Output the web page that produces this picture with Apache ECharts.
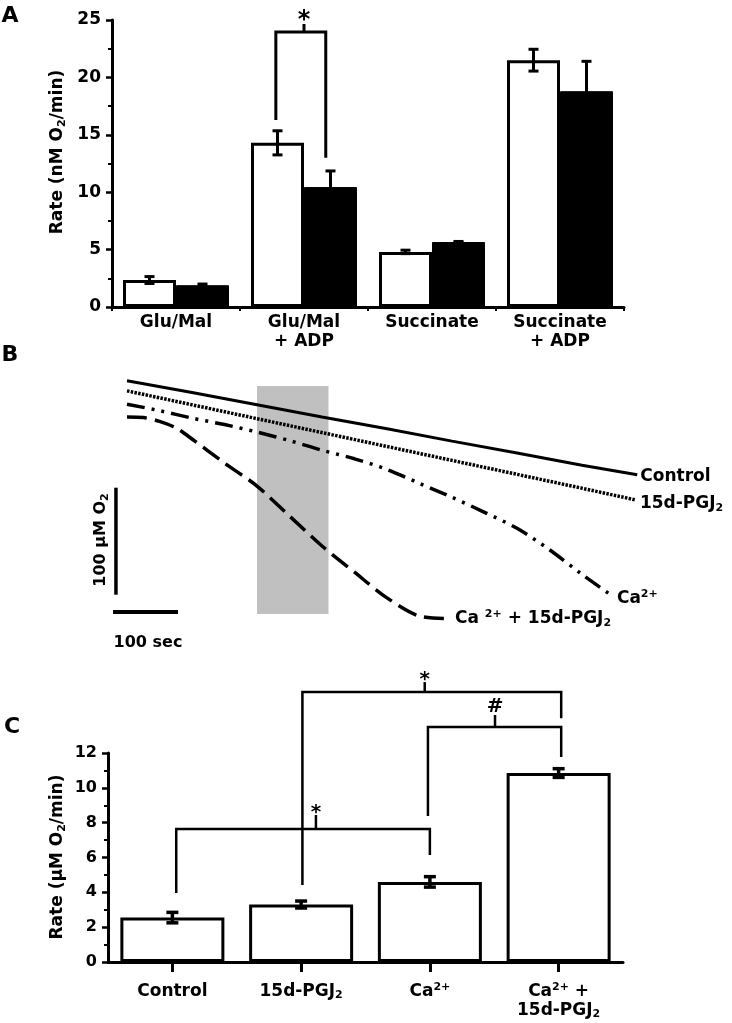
<!DOCTYPE html>
<html><head><meta charset="utf-8">
<script src="https://cdn.jsdelivr.net/npm/echarts@6/dist/echarts.min.js"></script>
<style>html,body{margin:0;padding:0;background:#fff}#c{width:732px;height:1023px}</style>
</head><body><div id="c"></div>
<script>
// ---------- Panel A data ----------
const catsA = ['Glu/Mal', 'Glu/Mal\n+ ADP', 'Succinate', 'Succinate\n+ ADP'];
const ctrlA = [2.35, 14.3, 4.8, 21.5];
const ctrlErrA = [0.3, 1.05, 0.15, 0.95];
const trtA = [1.9, 10.45, 5.66, 18.8];
const trtErrA = [0.1, 1.4, 0.05, 2.6];
const yMaxA = 25, yStepA = 5;
// significance bracket (category units / rate units)
const brA_left = [0.78], brA_right = [1.17], brA_top = [23.95];
const brA_leftEnd = [16.3], brA_rightEnd = [13.0], brA_tick = [1.0], brA_tickTop = [24.65], brA_mark = ['*'];

// ---------- Panel B data (time s, O2 uM) ----------
const tCtrl = [0, 100, 200, 300, 400, 500, 600, 700, 785];
const o2Ctrl = [233, 222, 210.5, 199, 188, 176.5, 165.5, 154, 145];
const tPgj = [0, 100, 200, 300, 400, 500, 600, 700, 783];
const o2Pgj = [223.5, 210.5, 197.5, 184.5, 171.5, 158.5, 145.5, 132.5, 121.5];
const tCa = [0, 50, 100, 150, 200, 250, 300, 350, 400, 450, 500, 550, 600, 650, 700, 746];
const o2Ca = [211, 205, 198, 192, 185, 177, 168, 160, 150, 137, 124, 110, 95, 75, 52, 32];
const tCaPgj = [0, 25, 50, 75, 100, 150, 200, 250, 300, 350, 400, 450, 500];
const o2CaPgj = [199, 198.5, 195, 189, 178.5, 156, 134.5, 106.5, 78.5, 54, 30, 13, 10.5];
const shadeT = [200, 310], shadeO2 = [15, 228];
const scaleSec = 100, scaleO2 = 100;

// ---------- Panel C data ----------
const catsC = ['Control', '15d-PGJ{sub|2}', 'Ca{sup|2+}', 'Ca{sup|2+} +\n15d-PGJ{sub|2}'];
const rateC = [2.55, 3.3, 4.6, 10.85];
const errC = [0.3, 0.2, 0.3, 0.25];
const yMaxC = 12, yStepC = 2;
const brC_left = [0.03, 1.01, 1.985], brC_right = [2.0, 3.02, 3.02], brC_top = [7.63, 15.5, 13.49];
const brC_leftEnd = [3.96, 4.42, 8.38], brC_rightEnd = [6.14, 14.0, 11.77];
const brC_tick = [1.115, 1.96, 2.506], brC_tickTop = [8.44, 16.07, 14.18], brC_mark = ['*', '*', '#'];

const FONT = 'DejaVu Sans';
const richL = {
  sub: {fontFamily: FONT, fontWeight: 'bold', fontSize: 11, lineHeight: 10, verticalAlign: 'bottom', color: '#000'},
  sup: {fontFamily: FONT, fontWeight: 'bold', fontSize: 11, lineHeight: 10, verticalAlign: 'top', color: '#000'}
};
const richG = {
  sub: {fontFamily: FONT, fontWeight: 'bold', fontSize: 11, lineHeight: 10, verticalAlign: 'bottom', fill: '#000'},
  sup: {fontFamily: FONT, fontWeight: 'bold', fontSize: 11, lineHeight: 10, verticalAlign: 'top', fill: '#000'}
};

function errRender(offset, capW, lw) {
  return function (params, api) {
    const i = api.value(0), m = api.value(1), e = api.value(2);
    const x = api.coord([i, m])[0] + offset;
    const yt = api.coord([i, m + e])[1], yb = api.coord([i, m - e])[1];
    const s = {stroke: '#000', lineWidth: lw};
    return {type: 'group', children: [
      {type: 'line', shape: {x1: x, y1: yt, x2: x, y2: yb}, style: s},
      {type: 'line', shape: {x1: x - capW / 2, y1: yt, x2: x + capW / 2, y2: yt}, style: s},
      {type: 'line', shape: {x1: x - capW / 2, y1: yb, x2: x + capW / 2, y2: yb}, style: s}
    ]};
  };
}
function bracketRender(L, R, T, LE, RE, TK, TT, MK, fs, lw) {
  return function (params, api) {
    const i = params.dataIndex;
    const c0 = api.coord([0, 0])[0];
    const band = api.size([1, 0])[0];
    const px = v => c0 + v * band;
    const py = v => api.coord([0, v])[1];
    const xl = px(L[i]), xr = px(R[i]), xt = px(TK[i]);
    const yt = py(T[i]), ttp = py(TT[i]);
    const mk = MK[i];
    return {type: 'group', children: [
      {type: 'polyline', shape: {points: [[xl, py(LE[i])], [xl, yt], [xr, yt], [xr, py(RE[i])]]}, style: {stroke: '#000', lineWidth: lw, fill: null}},
      {type: 'line', shape: {x1: xt, y1: yt, x2: xt, y2: ttp}, style: {stroke: '#000', lineWidth: lw}},
      {type: 'text', x: xt, y: mk === '#' ? ttp - 0.4 * fs : ttp - 0.12 * fs,
        style: {text: mk, fontFamily: FONT, fontWeight: 'bold', fontSize: fs, fill: '#000', align: 'center', verticalAlign: 'middle'}}
    ]};
  };
}

const axisLine = {show: true, lineStyle: {color: '#000', width: 3}};
const yTick = {show: true, inside: false, length: 6, lineStyle: {color: '#000', width: 2.5}};
const yMinor = {show: true, splitNumber: 2, length: 4, lineStyle: {color: '#000', width: 2}};
const lbl = (fs, margin) => ({fontFamily: FONT, fontWeight: 'bold', fontSize: fs, color: '#000', margin: margin});

const chart = echarts.init(document.getElementById('c'), null, {renderer: 'canvas', width: 732, height: 1023});
const lineLabel = (text, dist, off) => ({show: true, formatter: text, distance: dist, offset: off,
  fontFamily: FONT, fontWeight: 'bold', fontSize: 17, lineHeight: 20, color: '#000', rich: richL});

chart.setOption({
  animation: false,
  backgroundColor: '#fff',
  grid: [
    {left: 112, top: 20, width: 512, height: 287},
    {left: 107.5, top: 362.5, width: 533, height: 267.5},
    {left: 108, top: 753, width: 515, height: 209}
  ],
  xAxis: [
    {type: 'category', gridIndex: 0, data: catsA, axisLine: axisLine,
      axisTick: {show: true, length: 4, lineStyle: {color: '#000', width: 2}},
      axisLabel: Object.assign(lbl(17, 6), {interval: 0, lineHeight: 19}), splitLine: {show: false}},
    {type: 'value', gridIndex: 1, min: -30, max: 790, show: false},
    {type: 'category', gridIndex: 2, data: catsC, axisLine: axisLine,
      axisTick: {show: true, alignWithLabel: true, length: 10, lineStyle: {color: '#000', width: 3}},
      axisLabel: Object.assign(lbl(17, 20), {interval: 0, lineHeight: 19, rich: richL}), splitLine: {show: false}}
  ],
  yAxis: [
    {type: 'value', gridIndex: 0, min: 0, max: yMaxA, interval: yStepA, axisLine: axisLine, axisTick: yTick,
      minorTick: yMinor, splitLine: {show: false}, minorSplitLine: {show: false}, axisLabel: lbl(17, 11)},
    {type: 'value', gridIndex: 1, min: 0, max: 250, show: false},
    {type: 'value', gridIndex: 2, min: 0, max: yMaxC, interval: yStepC, axisLine: axisLine, axisTick: yTick,
      minorTick: yMinor, splitLine: {show: false}, minorSplitLine: {show: false}, axisLabel: lbl(16, 11)}
  ],
  series: [
    // Panel A bars
    {type: 'bar', xAxisIndex: 0, yAxisIndex: 0, data: ctrlA, barWidth: 53, barGap: '0%',
      itemStyle: {color: '#fff', borderColor: '#000', borderWidth: 3}},
    {type: 'bar', xAxisIndex: 0, yAxisIndex: 0, data: trtA, barWidth: 53, barGap: '0%',
      itemStyle: {color: '#000', borderColor: '#000', borderWidth: 1}},
    {type: 'custom', xAxisIndex: 0, yAxisIndex: 0, clip: false, z: 5,
      data: catsA.map((_, i) => [i, ctrlA[i], ctrlErrA[i]]), renderItem: errRender(-26.5, 10, 3)},
    {type: 'custom', xAxisIndex: 0, yAxisIndex: 0, clip: false, z: 5,
      data: catsA.map((_, i) => [i, trtA[i], trtErrA[i]]), renderItem: errRender(26.5, 10, 3)},
    {type: 'custom', xAxisIndex: 0, yAxisIndex: 0, clip: false, z: 5,
      data: brA_top.map(v => [0, v]),
      renderItem: bracketRender(brA_left, brA_right, brA_top, brA_leftEnd, brA_rightEnd, brA_tick, brA_tickTop, brA_mark, 24, 3)},
    // Panel B shading
    {type: 'custom', xAxisIndex: 1, yAxisIndex: 1, z: 1, silent: true,
      data: [[shadeT[0], shadeO2[0], shadeT[1], shadeO2[1]]],
      renderItem: function (p, api) {
        const a = api.coord([api.value(0), api.value(1)]);
        const b = api.coord([api.value(2), api.value(3)]);
        return {type: 'rect', shape: {x: a[0], y: b[1], width: b[0] - a[0], height: a[1] - b[1]}, style: {fill: '#c0c0c0'}};
      }},
    // Panel B scale bars
    {type: 'custom', xAxisIndex: 1, yAxisIndex: 1, z: 3, clip: false,
      data: [[-17, 33, -21.5, 16.8]],
      renderItem: function (p, api) {
        const v0 = api.coord([api.value(0), api.value(1)]);
        const v1 = api.coord([api.value(0), api.value(1) + scaleO2]);
        const h0 = api.coord([api.value(2), api.value(3)]);
        const h1 = api.coord([api.value(2) + scaleSec, api.value(3)]);
        return {type: 'group', children: [
          {type: 'line', shape: {x1: v0[0], y1: v0[1], x2: v1[0], y2: v1[1]}, style: {stroke: '#000', lineWidth: 3.5}},
          {type: 'line', shape: {x1: h0[0], y1: h0[1], x2: h1[0], y2: h1[1]}, style: {stroke: '#000', lineWidth: 4}}
        ]};
      }},
    // Panel B traces
    {type: 'line', name: 'Control', xAxisIndex: 1, yAxisIndex: 1, z: 4, symbol: 'none', smooth: false,
      data: tCtrl.map((t, i) => [t, o2Ctrl[i]]), lineStyle: {color: '#000', width: 3, type: 'solid'},
      endLabel: lineLabel('Control', 3, [0, 2])},
    {type: 'line', name: '15d-PGJ2', xAxisIndex: 1, yAxisIndex: 1, z: 4, symbol: 'none', smooth: false,
      data: tPgj.map((t, i) => [t, o2Pgj[i]]), lineStyle: {color: '#000', width: 3.5, type: [2.5, 1.3]},
      endLabel: lineLabel('15d-PGJ{sub|2}', 4, [0, 4])},
    {type: 'line', name: 'Ca2+', xAxisIndex: 1, yAxisIndex: 1, z: 4, symbol: 'none', smooth: 0.3,
      data: tCa.map((t, i) => [t, o2Ca[i]]), lineStyle: {color: '#000', width: 3.5, type: [18, 7, 3, 7, 3, 7]},
      endLabel: lineLabel('Ca{sup|2+}', 5, [0, 3])},
    {type: 'line', name: 'Ca2+ + 15d-PGJ2', xAxisIndex: 1, yAxisIndex: 1, z: 4, symbol: 'none', smooth: 0.3,
      data: tCaPgj.map((t, i) => [t, o2CaPgj[i]]), lineStyle: {color: '#000', width: 3.5, type: [20, 8]},
      endLabel: lineLabel('Ca {sup|2+} + 15d-PGJ{sub|2}', 3, [0, 0])},
    // Panel C
    {type: 'bar', xAxisIndex: 2, yAxisIndex: 2, data: rateC, barWidth: 104,
      itemStyle: {color: '#fff', borderColor: '#000', borderWidth: 3}},
    {type: 'custom', xAxisIndex: 2, yAxisIndex: 2, clip: false, z: 5,
      data: rateC.map((v, i) => [i, v, errC[i]]), renderItem: errRender(0, 12, 3.5)},
    {type: 'custom', xAxisIndex: 2, yAxisIndex: 2, clip: false, z: 5,
      data: brC_top.map(v => [0, v]),
      renderItem: bracketRender(brC_left, brC_right, brC_top, brC_leftEnd, brC_rightEnd, brC_tick, brC_tickTop, brC_mark, 20, 2.5)}
  ],
  graphic: [
    {type: 'text', x: 10, y: 16, style: {text: 'A', fontFamily: FONT, fontWeight: 'bold', fontSize: 22, fill: '#000', align: 'center', verticalAlign: 'middle'}},
    {type: 'text', x: 10, y: 355, style: {text: 'B', fontFamily: FONT, fontWeight: 'bold', fontSize: 22, fill: '#000', align: 'center', verticalAlign: 'middle'}},
    {type: 'text', x: 12, y: 727, style: {text: 'C', fontFamily: FONT, fontWeight: 'bold', fontSize: 22, fill: '#000', align: 'center', verticalAlign: 'middle'}},
    {type: 'text', x: 58, y: 152, rotation: Math.PI / 2,
      style: {text: 'Rate (nM O{sub|2}/min)', rich: richG, fontFamily: FONT, fontWeight: 'bold', fontSize: 17, lineHeight: 20, fill: '#000', align: 'center', verticalAlign: 'middle'}},
    {type: 'text', x: 58, y: 857, rotation: Math.PI / 2,
      style: {text: 'Rate (\u03bcM O{sub|2}/min)', rich: richG, fontFamily: FONT, fontWeight: 'bold', fontSize: 17, lineHeight: 20, fill: '#000', align: 'center', verticalAlign: 'middle'}},
    {type: 'text', x: 101, y: 540, rotation: Math.PI / 2,
      style: {text: '100 \u03bcM O{sub|2}', rich: richG, fontFamily: FONT, fontWeight: 'bold', fontSize: 16, lineHeight: 20, fill: '#000', align: 'center', verticalAlign: 'middle'}},
    {type: 'text', x: 148, y: 643,
      style: {text: '100 sec', fontFamily: FONT, fontWeight: 'bold', fontSize: 16, fill: '#000', align: 'center', verticalAlign: 'middle'}}
  ]
});
</script>
</body></html>
